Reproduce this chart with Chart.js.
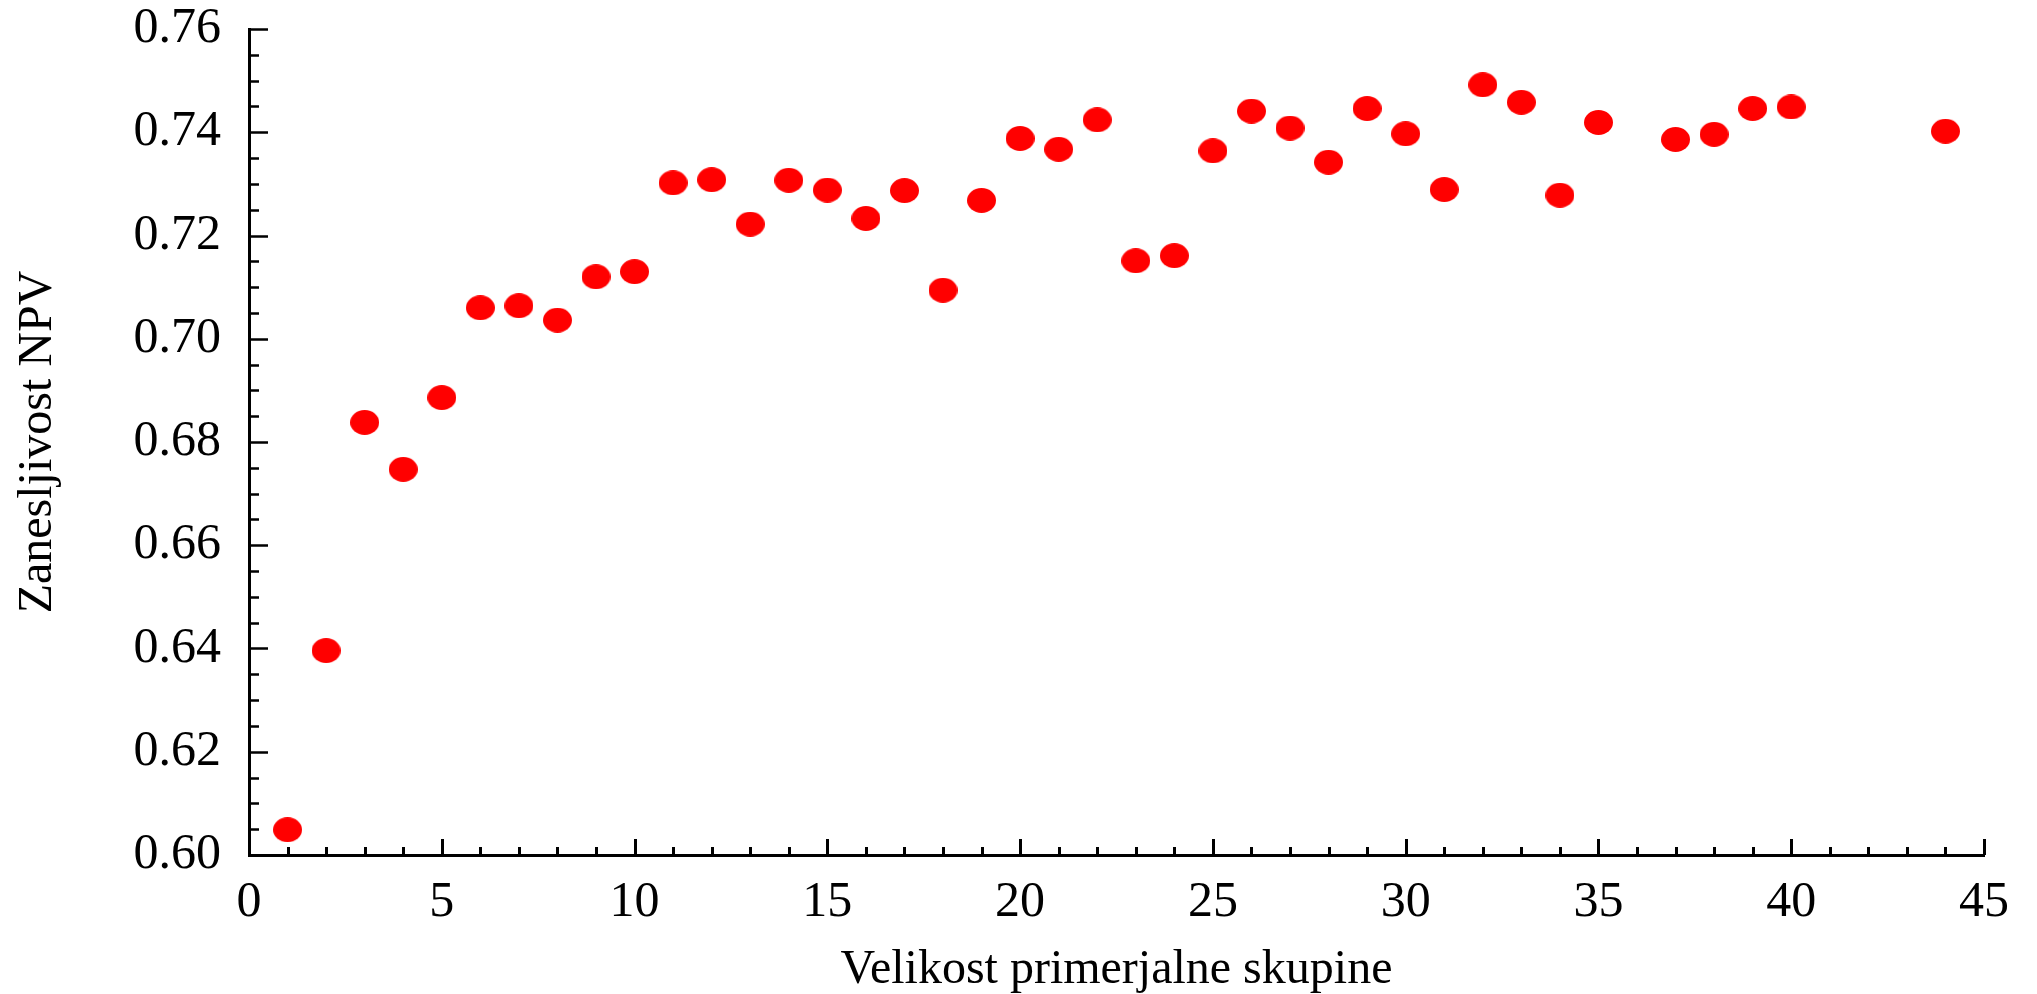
<!DOCTYPE html>
<html>
<head>
<meta charset="utf-8">
<script src="https://cdn.jsdelivr.net/npm/chart.js@4.4.1/dist/chart.umd.min.js"></script>
<style>
    html, body { margin: 0; padding: 0; background: #fff; }
    #npv-chart { display: block; }
</style>
</head>
<body>
<canvas id="npv-chart" width="2037" height="994"></canvas>
<script>
// data
const groupSizes = [1, 2, 3, 4, 5, 6, 7, 8, 9, 10,
    11, 12, 13, 14, 15, 16, 17, 18, 19, 20,
    21, 22, 23, 24, 25, 26, 27, 28, 29, 30,
    31, 32, 33, 34, 35, 37, 38, 39, 40, 44];
const npvReliability = [0.6049, 0.6396, 0.6838, 0.6747, 0.6886, 0.7060, 0.7064, 0.7036, 0.7120, 0.7130,
    0.7302, 0.7308, 0.7222, 0.7307, 0.7288, 0.7233, 0.7287, 0.7094, 0.7268, 0.7388,
    0.7367, 0.7424, 0.7151, 0.7161, 0.7364, 0.7441, 0.7408, 0.7342, 0.7446, 0.7397,
    0.7289, 0.7492, 0.7458, 0.7278, 0.7419, 0.7386, 0.7396, 0.7446, 0.7449, 0.7402];

const xTickStep = 5;
const xMinorStep = 1;
const yTickStep = 0.02;
const yMinorStep = 0.005;

const xTitle = "Velikost primerjalne skupine";
const yTitle = "Zanesljivost NPV";

document.addEventListener("DOMContentLoaded", function () {
    const serif = "'Liberation Serif', 'Times New Roman', serif";

    // red elliptical marker, the figure's dots are a bit wider than tall
    const dot = document.createElement("canvas");
    dot.width = 29;
    dot.height = 25;
    (function () {
        const c = dot.getContext("2d");
        c.fillStyle = "#ff0000";
        c.beginPath();
        c.ellipse(14.5, 12.5, 14.5, 12.5, 0, 0, Math.PI * 2);
        c.fill();
    })();

    // ticks pointing into the plot, major + minor
    const inwardTicks = {
        id: "inwardTicks",
        afterDraw(chart) {
            const { ctx, chartArea, scales } = chart;
            const xs = scales.x, ys = scales.y;
            ctx.save();
            ctx.strokeStyle = "#000";

            ctx.lineWidth = 3;
            ctx.beginPath();
            const nx = Math.round((xs.max - xs.min) / xMinorStep);
            for (let i = 0; i <= nx; i++) {
                const v = xs.min + i * xMinorStep;
                const px = Math.round(xs.getPixelForValue(v)) + 0.5;
                const len = (i % (xTickStep / xMinorStep) === 0) ? 16 : 8;
                ctx.moveTo(px, chartArea.bottom);
                ctx.lineTo(px, chartArea.bottom - len);
            }
            ctx.stroke();

            ctx.lineWidth = 2.5;
            ctx.beginPath();
            const ny = Math.round((ys.max - ys.min) / yMinorStep);
            const perMajor = Math.round(yTickStep / yMinorStep);
            for (let i = 0; i <= ny; i++) {
                const v = ys.min + i * yMinorStep;
                const py = Math.round(ys.getPixelForValue(v)) + 0.5;
                const len = (i % perMajor === 0) ? 19 : 10;
                ctx.moveTo(chartArea.left, py);
                ctx.lineTo(chartArea.left + len, py);
            }
            ctx.stroke();
            ctx.restore();
        }
    };

    const canvas = document.getElementById("npv-chart");

    new Chart(canvas, {
        type: "scatter",
        data: {
            datasets: [{
                label: yTitle,
                data: groupSizes.map((x, i) => ({ x: x, y: npvReliability[i] })),
                pointStyle: dot,
                pointRadius: 13,
                pointHoverRadius: 13,
                backgroundColor: "#ff0000",
                borderColor: "#ff0000"
            }]
        },
        options: {
            responsive: false,
            animation: false,
            devicePixelRatio: 1,
            layout: {
                padding: { top: 0, right: 53, bottom: 0, left: 0 }
            },
            plugins: {
                legend: { display: false },
                tooltip: { enabled: false }
            },
            scales: {
                x: {
                    type: "linear",
                    min: 0,
                    max: 45,
                    afterFit(scale) { scale.height = 139; },
                    grid: { display: false, drawTicks: false },
                    border: { display: true, color: "#000", width: 3 },
                    ticks: {
                        stepSize: xTickStep,
                        color: "#000",
                        padding: 18,
                        maxRotation: 0,
                        font: { family: serif, size: 50 }
                    },
                    title: {
                        display: true,
                        text: xTitle,
                        color: "#000",
                        padding: { top: 0, bottom: -5 },
                        font: { family: serif, size: 48 }
                    }
                },
                y: {
                    type: "linear",
                    min: 0.6,
                    max: 0.76,
                    afterFit(scale) {
                        scale.width = 249;
                        // keep the plot top where the figure has it
                        scale.paddingTop = 29;
                        scale.paddingBottom = 0;
                    },
                    grid: { display: false, drawTicks: false },
                    border: { display: true, color: "#000", width: 3 },
                    ticks: {
                        stepSize: yTickStep,
                        color: "#000",
                        padding: 28,
                        font: { family: serif, size: 50 },
                        callback: v => Number(v).toFixed(2)
                    },
                    title: {
                        display: true,
                        text: yTitle,
                        color: "#000",
                        padding: { top: 10, bottom: 0 },
                        font: { family: serif, size: 48 }
                    }
                }
            }
        },
        plugins: [inwardTicks]
    });
});
</script>
</body>
</html>
